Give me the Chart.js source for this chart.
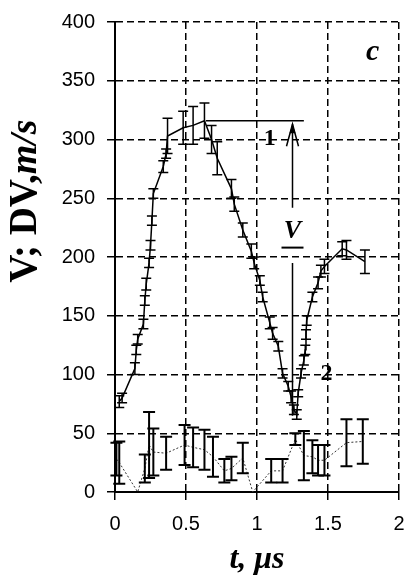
<!DOCTYPE html>
<html>
<head>
<meta charset="utf-8">
<script src="https://cdn.jsdelivr.net/npm/chart.js@4.4.1/dist/chart.umd.min.js"></script>
<style>
  html, body { margin: 0; padding: 0; background: #fff; }
</style>
</head>
<body>
<canvas id="grafica" width="404" height="580"></canvas>
<script>
// ===== data =====
// curve 1: V (solid line)
const tV  = [0.03,0.05,0.14,0.15,0.16,0.2,0.21,0.22,0.24,0.25,0.26,0.27,0.34,0.36,0.37,0.48,0.55,0.63,0.68,0.72,0.82,0.84,0.9,0.96,0.98,1.02,1.04,1.09,1.11,1.15,1.18,1.22,1.24,1.26,1.28,1.29,1.31,1.33,1.34,1.345,1.35,1.39,1.43,1.45,1.475,1.6,1.63,1.76];
const vV  = [77,80,105,121,130,143,163,177,195,210,231,254,277,288,303,310,312,316,300,284,258,245,223,205,195,180,166,144,135,124,101,90,81,70,66,84,101,112,121,134,146,166,178,188,192,207,206,196];
const eV  = [5,4,5,4,4,4,4,5,4,4,4,4,5,4,15,14,16,15,12,14,8,6,6,6,5,4,4,5,5,4,4,4,5,4,4,3,4,4,4,4,4,4,5,5,6,6,8,10];

// curve 2: DV (dotted line)
const tDV = [0.01,0.03,0.16,0.21,0.24,0.27,0.36,0.49,0.55,0.63,0.69,0.77,0.82,0.9,0.97,1.1,1.18,1.27,1.33,1.39,1.43,1.475,1.63,1.745];
const vDV = [28,25,0,20,40,34,33,40,38,36,30,18,20,29,0,18,18,45,31,30,27,27,42,43];
const eDV = [14,18,0,12,28,20,14,17,17,17,17,10,10,13,0,10,10,5,21,14,13,13,20,19];

const xTicks = [0, 0.5, 1, 1.5, 2];
const yTicks = [0, 50, 100, 150, 200, 250, 300, 350, 400];

// ===== plugins =====
const barrasError = {
  id: 'barrasError',
  afterDatasetsDraw(chart) {
    const ctx = chart.ctx;
    const xs = chart.scales.x, ys = chart.scales.y;
    chart.data.datasets.forEach(ds => {
      if (!ds.errores) return;
      ctx.save();
      ctx.strokeStyle = '#000';
      ctx.lineWidth = ds.anchoBarra;
      ds.data.forEach((p, i) => {
        const e = ds.errores[i];
        if (!e) return;
        const x = xs.getPixelForValue(p.x);
        const y1 = ys.getPixelForValue(p.y - e);
        const y2 = ys.getPixelForValue(p.y + e);
        const c = ds.tapa / 2;
        ctx.beginPath();
        ctx.moveTo(x, y1); ctx.lineTo(x, y2);
        ctx.moveTo(x - c, y1); ctx.lineTo(x + c, y1);
        ctx.moveTo(x - c, y2); ctx.lineTo(x + c, y2);
        ctx.stroke();
      });
      ctx.restore();
    });
  }
};

const anotaciones = {
  id: 'anotaciones',
  afterDatasetsDraw(chart) {
    const ctx = chart.ctx;
    const xs = chart.scales.x, ys = chart.scales.y;
    const px = v => xs.getPixelForValue(v);
    const py = v => ys.getPixelForValue(v);
    ctx.save();
    ctx.strokeStyle = '#000';
    ctx.fillStyle = '#000';
    ctx.lineWidth = 1.5;

    // level line 1
    ctx.beginPath();
    ctx.moveTo(px(0.64), py(316)); ctx.lineTo(px(1.33), py(316));
    ctx.stroke();

    // arrow V
    const xa = px(1.25);
    ctx.beginPath();
    ctx.moveTo(xa, py(313)); ctx.lineTo(xa, py(242));
    ctx.moveTo(xa, py(195)); ctx.lineTo(xa, py(65));
    ctx.stroke();
    ctx.beginPath();
    ctx.moveTo(xa - 6, py(313) + 22); ctx.lineTo(xa, py(313)); ctx.lineTo(xa + 6, py(313) + 22);
    ctx.stroke();
    ctx.beginPath();
    ctx.moveTo(xa - 3, py(313) + 9); ctx.lineTo(xa, py(313)); ctx.lineTo(xa + 3, py(313) + 9);
    ctx.closePath(); ctx.fill();

    ctx.textAlign = 'center';
    ctx.textBaseline = 'middle';
    ctx.font = 'bold 24px "Liberation Serif"';
    ctx.fillText('1', px(1.09), py(301));
    ctx.fillText('2', px(1.49), py(101));
    ctx.font = 'italic bold 26px "Liberation Serif"';
    ctx.fillText('V', xa, py(222));
    ctx.beginPath();
    ctx.moveTo(xa - 11, py(208)); ctx.lineTo(xa + 11, py(208));
    ctx.lineWidth = 2;
    ctx.stroke();
    ctx.font = 'italic bold 30px "Liberation Serif"';
    ctx.fillText('c', px(1.815), py(374));

    // axis titles
    const ca = chart.chartArea;
    const partesY = [
      { t: 'V; DV,', f: 'bold 39px "Liberation Serif"' },
      { t: 'm/s', f: 'italic bold 38px "Liberation Serif"' }
    ];
    ctx.save();
    ctx.translate(26, 201);
    ctx.rotate(-Math.PI / 2);
    let total = 0;
    partesY.forEach(p => { ctx.font = p.f; total += ctx.measureText(p.t).width; });
    let x0 = -total / 2;
    ctx.textAlign = 'left';
    partesY.forEach(p => { ctx.font = p.f; ctx.fillText(p.t, x0, 0); x0 += ctx.measureText(p.t).width; });
    ctx.restore();

    ctx.textAlign = 'center';
    ctx.font = 'italic bold 32px "Liberation Serif"';
    ctx.fillText('t, \u03bcs', (ca.left + ca.right) / 2, 560);
    ctx.restore();
  }
};

// ===== chart =====
new Chart(document.getElementById('grafica'), {
  type: 'scatter',
  data: {
    datasets: [
      {
        label: 'V',
        data: tV.map((t, i) => ({ x: t, y: vV[i] })),
        errores: eV, anchoBarra: 1.5, tapa: 10,
        showLine: true,
        borderColor: '#000',
        borderWidth: 1.5,
        pointRadius: 0,
        tension: 0
      },
      {
        label: 'DV',
        data: tDV.map((t, i) => ({ x: t, y: vDV[i] })),
        errores: eDV, anchoBarra: 2, tapa: 12,
        showLine: true,
        borderColor: '#333',
        borderWidth: 1,
        borderDash: [2, 2],
        pointRadius: 0,
        tension: 0
      }
    ]
  },
  options: {
    responsive: false,
    animation: false,
    layout: { padding: { top: 22, right: 5, left: 0, bottom: 0 } },
    plugins: { legend: { display: false }, tooltip: { enabled: false } },
    scales: {
      x: {
        type: 'linear', min: 0, max: 2,
        afterBuildTicks: s => { s.ticks = xTicks.map(v => ({ value: v })); },
        afterFit: s => { s.height = 88; s.paddingRight = 0; s.paddingLeft = 0; },
        ticks: { color: '#000', font: { family: '"Liberation Sans"', size: 20 }, padding: 12, maxRotation: 0,
                 callback: v => String(v) },
        grid: { color: '#000', lineWidth: 1.5, tickLength: 8, tickBorderDash: [] },
        border: { color: '#000', width: 2, dash: [7, 4] }
      },
      y: {
        type: 'linear', min: 0, max: 400,
        afterBuildTicks: s => { s.ticks = yTicks.map(v => ({ value: v })); },
        afterFit: s => { s.width = 115; s.paddingTop = 0; s.paddingBottom = 0; },
        ticks: { color: '#000', font: { family: '"Liberation Sans"', size: 20 }, padding: 12 },
        grid: { color: '#000', lineWidth: 1.5, tickLength: 8, tickBorderDash: [] },
        border: { color: '#000', width: 2, dash: [7, 4] }
      }
    }
  },
  plugins: [barrasError, anotaciones]
});
</script>
</body>
</html>
